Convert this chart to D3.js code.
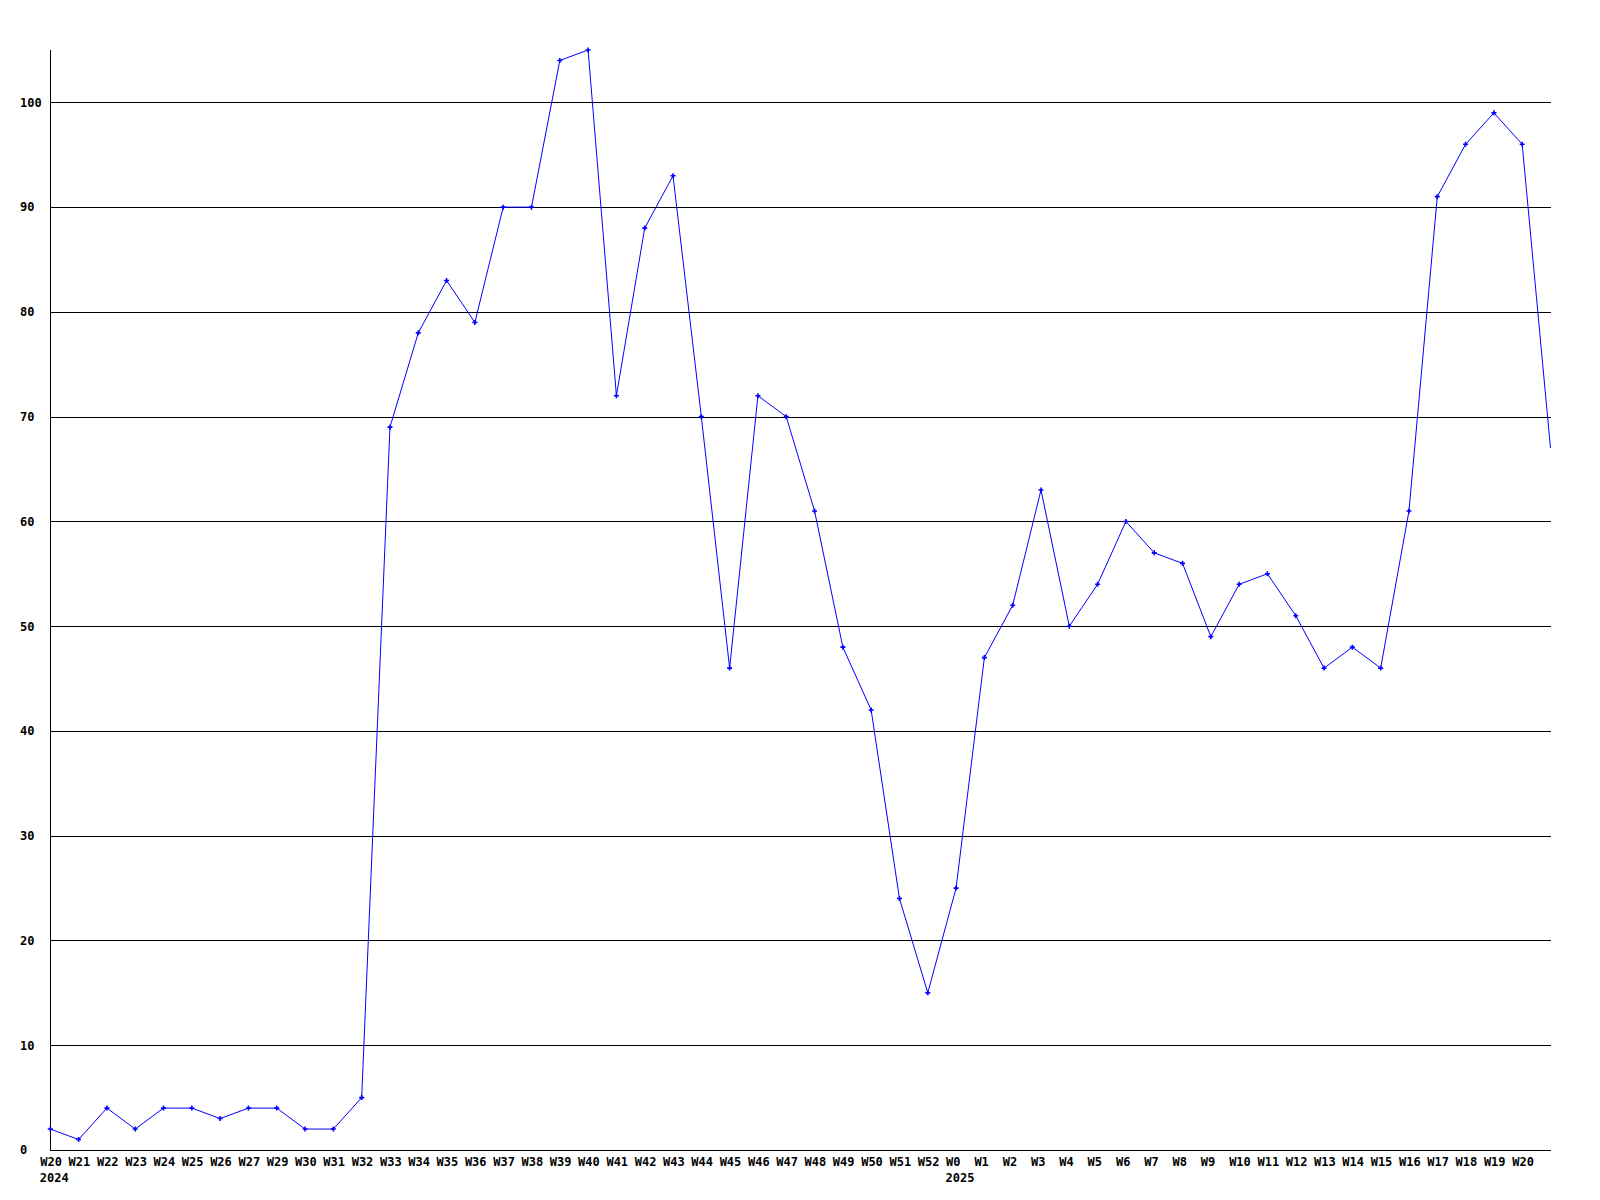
<!DOCTYPE html>
<html>
<head>
<meta charset="utf-8">
<script src="https://cdn.jsdelivr.net/npm/d3@7"></script>
<style>
  html, body { margin: 0; padding: 0; background: #fff; }
  svg { display: block; }
  text { font-family: "DejaVu Sans Mono", "Liberation Mono", monospace; font-weight: bold; font-size: 12px; fill: #000; }
</style>
</head>
<body>
<svg id="chart" width="1600" height="1200"></svg>
<script>
// Week labels (one per data point; the final point has no label)
const weekLabels = ["W20","W21","W22","W23","W24","W25","W26","W27","W29","W30","W31","W32",
  "W33","W34","W35","W36","W37","W38","W39","W40","W41","W42","W43","W44","W45","W46","W47",
  "W48","W49","W50","W51","W52","W0","W1","W2","W3","W4","W5","W6","W7","W8","W9","W10",
  "W11","W12","W13","W14","W15","W16","W17","W18","W19","W20",""];
const yearLabels = [{index: 0, text: "2024"}, {index: 32, text: "2025"}];
const values = [2,1,4,2,4,4,3,4,4,2,2,5,
  69,78,83,79,90,90,104,105,72,88,93,70,46,72,70,
  61,48,42,24,15,25,47,52,63,50,54,60,57,56,49,54,
  55,51,46,48,46,61,91,96,99,96,67];
const yTicks = [0,10,20,30,40,50,60,70,80,90,100];

const svg = d3.select("#chart");
const mLeft = 50, mRight = 1550.5, mTop = 50, mBottom = 1150;
const labelOffset = -10.5;

const x = d3.scaleLinear().domain([0, values.length - 1]).range([mLeft + 0.3, mRight]);
const y = d3.scaleLinear().domain([0, 105]).range([mBottom, mTop]);

function clearFont(g) { g.attr("font-family", null).attr("font-size", null); }

// Gridlines
const grid = svg.append("g").attr("transform", `translate(${mLeft},0)`)
  .call(d3.axisLeft(y).tickValues(yTicks.filter(v => v > 0)).tickSize(-(mRight - mLeft)).tickFormat(""));
grid.select(".domain").remove();
grid.selectAll("line").attr("stroke", "#000").attr("shape-rendering", "crispEdges");

// Y axis labels
const yAxis = svg.append("g").attr("transform", `translate(${mLeft},0)`)
  .call(d3.axisLeft(y).tickValues(yTicks).tickSize(0).tickFormat(d3.format("d")));
yAxis.select(".domain").remove();
clearFont(yAxis);
yAxis.selectAll("text").attr("x", -30).attr("text-anchor", "start");

// X axis labels (left-aligned just before each point)
const xAxis = svg.append("g").attr("transform", `translate(0,${mBottom})`)
  .call(d3.axisBottom(x).tickValues(d3.range(weekLabels.length).filter(i => weekLabels[i] !== ""))
    .tickSize(0).tickFormat(i => weekLabels[i]));
xAxis.select(".domain").remove();
clearFont(xAxis);
xAxis.attr("text-anchor", null);
xAxis.selectAll("text").attr("dy", null).attr("y", 16).attr("x", labelOffset).attr("text-anchor", "start");

// Year labels
svg.append("g").selectAll("text").data(yearLabels).join("text")
  .attr("x", d => x(d.index) + labelOffset)
  .attr("y", mBottom + 32).attr("text-anchor", "start").text(d => d.text);

// Axis lines
svg.append("line").attr("x1", mLeft).attr("x2", mLeft).attr("y1", mTop).attr("y2", mBottom)
  .attr("stroke", "#000").attr("shape-rendering", "crispEdges");
svg.append("line").attr("x1", mLeft).attr("x2", mRight).attr("y1", mBottom).attr("y2", mBottom)
  .attr("stroke", "#000").attr("shape-rendering", "crispEdges");

// Data line
const line = d3.line().x((d, i) => x(i)).y(d => y(d));
svg.append("path").datum(values).attr("d", line)
  .attr("fill", "none").attr("stroke", "#0000ff").attr("stroke-width", 1);

// Markers (last point sits on the clipped edge, no marker)
svg.append("g").selectAll("path").data(values.slice(0, values.length - 1)).join("path")
  .attr("transform", (d, i) => `translate(${x(i)},${y(d)})`)
  .attr("d", "M-2.5,0H2.5M0,-2.5V2.5")
  .attr("stroke", "#0000ff").attr("stroke-width", 1.6).attr("fill", "none");
</script>
</body>
</html>
